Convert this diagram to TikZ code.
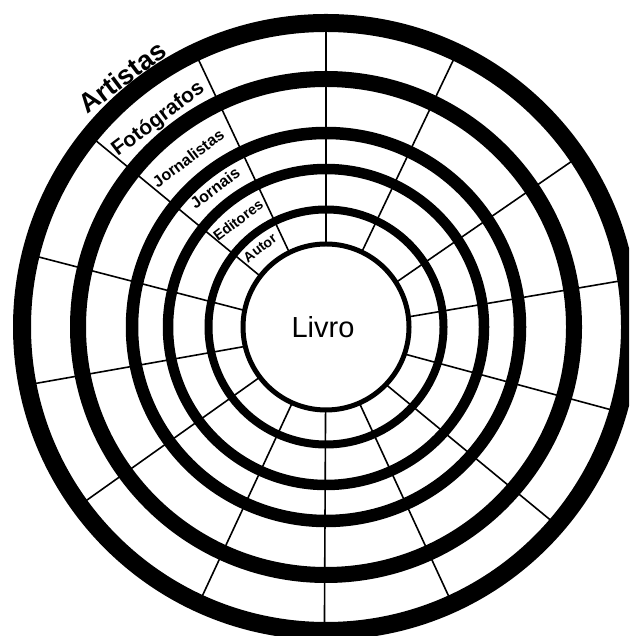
\documentclass[tikz,border=0pt]{standalone}
\usepackage{fontspec}
\setmainfont{Liberation Sans}
\begin{document}
\begin{tikzpicture}[x=1pt,y=1pt,
  ring/.style={draw=black, line width=#1},
  spoke/.style={draw=black, line width=1.6pt},
  lab/.style={font=\bfseries, rotate=37, inner sep=0pt, text depth=0pt}]
\useasboundingbox (0,0) rectangle (629,636);
\fill[white] (0,0) rectangle (629,636);
\clip (0,0) rectangle (629,636);
\begin{scope}[shift={(326,309)}]
  \foreach \a/\b in {90/90, 64.5/64.5, 32.5/34, 7/8.9, -19/-16.2, -43.8/-40.7, -66.3/-65.5, -90.3/-90.3, -114/-114.7, -142.8/-144.1, -166.5/-169, 168.5/166.3, 142.3/141, 116.2/115.5}
    \draw[spoke] (\a:83pt) -- (\b:296pt);
  \draw[ring=5pt] (0,0) circle[radius=83pt];
  \draw[ring=8pt] (0,0) circle[radius=117.5pt];
  \draw[ring=10.5pt] (0,0) circle[radius=158pt];
  \draw[ring=12.5pt] (0,0) circle[radius=194pt];
  \draw[ring=16pt] (0,0) circle[radius=248pt];
  \draw[ring=18pt] (0,0) circle[radius=304pt];
  \node (livro) at (-3pt,0pt) {\fontsize{29}{34}\selectfont Livro};
  \node[lab] (autor) at (129.9:103pt) {\fontsize{14}{16}\selectfont Autor};
  \node[lab] (editores) at (129.4:138.5pt) {\fontsize{14.5}{16}\selectfont Editores};
  \node[lab] (jornais) at (128.6:178pt) {\fontsize{16}{18}\selectfont Jornais};
  \node[lab] (jornalistas) at (129.2:218pt) {\fontsize{16}{18}\selectfont Jornalistas};
  \node[lab] (fotografos) at (128.9:269pt) {\fontsize{21}{24}\selectfont Fotógrafos};
  \node[lab] (artistas) at (129.2:322.7pt) {\fontsize{27}{30}\selectfont Artistas};
\end{scope}
\end{tikzpicture}
\end{document}
